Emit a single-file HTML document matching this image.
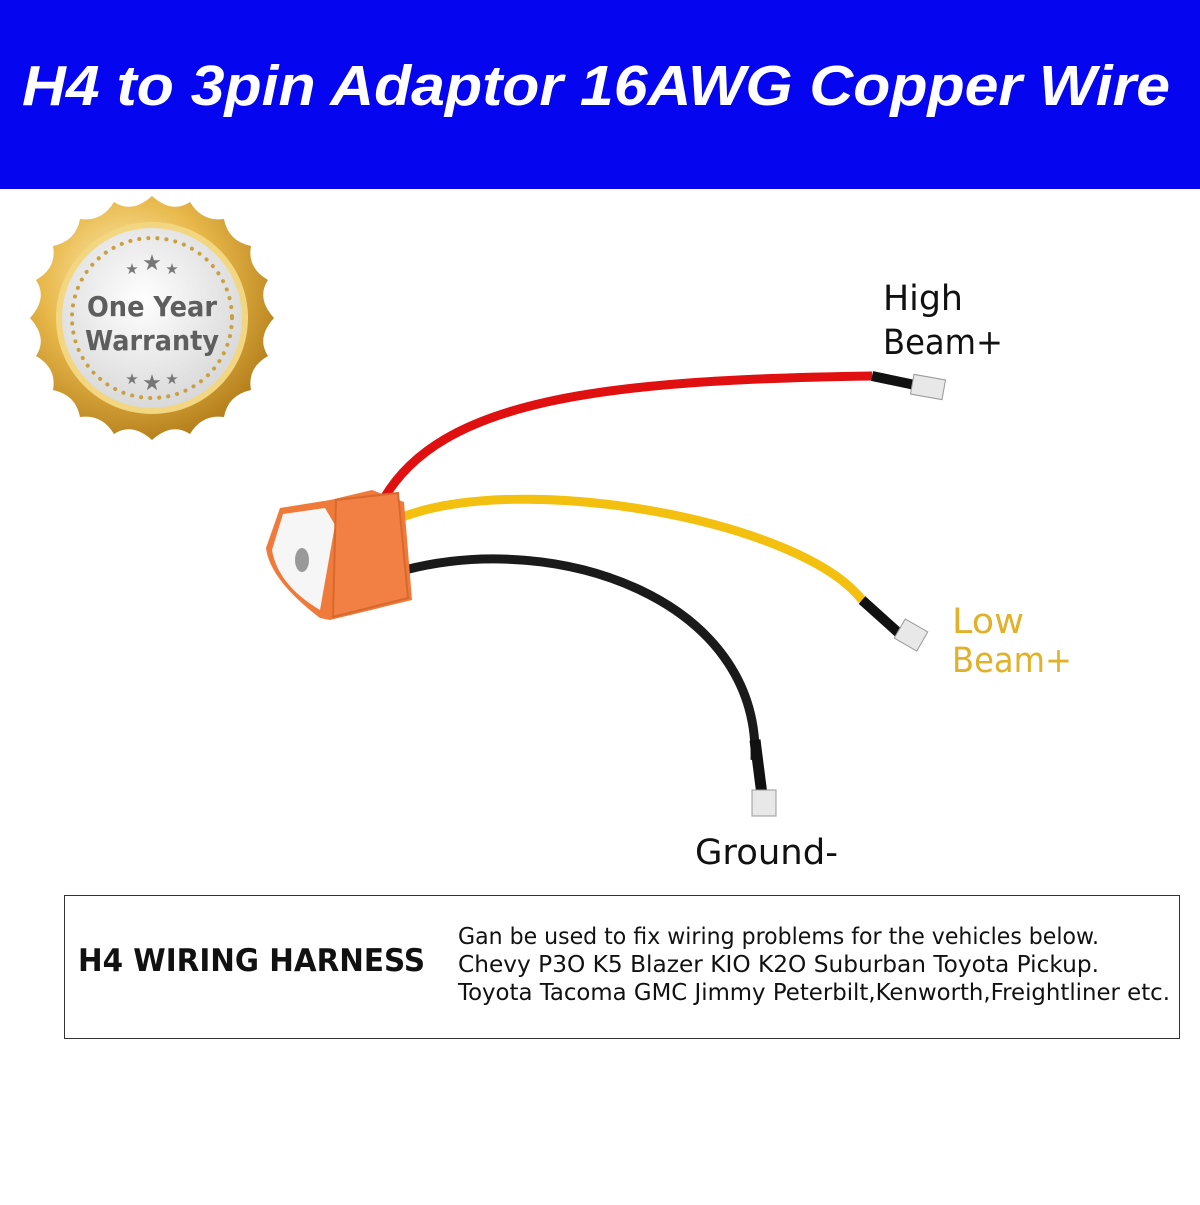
<!DOCTYPE html>
<html><head><style>
body{margin:0;width:1200px;height:1200px;background:#fff;overflow:hidden;font-family:"Liberation Sans","DejaVu Sans",sans-serif}
</style></head><body>
<svg width="1200" height="1200" viewBox="0 0 1200 1200" xmlns="http://www.w3.org/2000/svg">
<defs>
<radialGradient id="gold" cx="40%" cy="35%" r="70%"><stop offset="0" stop-color="#fff3c0"/><stop offset="0.5" stop-color="#e8b84a"/><stop offset="1" stop-color="#b07a18"/></radialGradient>
<radialGradient id="silver" cx="45%" cy="40%" r="65%"><stop offset="0" stop-color="#ffffff"/><stop offset="1" stop-color="#d6d6d6"/></radialGradient>
</defs>
<rect x="0" y="0" width="1200" height="189" fill="#0505f0"/>
<text x="22" y="105" textLength="1148" lengthAdjust="spacingAndGlyphs" fill="#fff" font-size="57" font-weight="bold" font-style="italic" font-family="Liberation Sans, sans-serif">H4 to 3pin Adaptor 16AWG Copper Wire</text>

<g transform="translate(152,318)">
<path d="M0,-122 Q20,-104 38,-116 Q50,-96 72,-99 Q76,-77 99,-72 Q95,-50 116,-38 Q104,-20 122,0 Q104,20 116,38 Q95,50 99,72 Q76,77 72,99 Q50,96 38,116 Q20,104 0,122 Q-20,104 -38,116 Q-50,96 -72,99 Q-76,77 -99,72 Q-95,50 -116,38 Q-104,20 -122,0 Q-104,-20 -116,-38 Q-95,-50 -99,-72 Q-76,-77 -72,-99 Q-50,-96 -38,-116 Q-20,-104 0,-122Z" fill="url(#gold)"/>
<circle r="96" fill="#f2d680"/>
<circle r="90" fill="url(#silver)"/>
<circle r="80" fill="none" stroke="#c9a040" stroke-width="4" stroke-dasharray="0.1 9" stroke-linecap="round"/>
<text y="-2" text-anchor="middle" font-size="28" font-weight="bold" fill="#5e5e5e" font-family="DejaVu Sans, sans-serif" textLength="130" lengthAdjust="spacingAndGlyphs">One Year</text>
<text y="32" text-anchor="middle" font-size="28" font-weight="bold" fill="#5e5e5e" font-family="DejaVu Sans, sans-serif" textLength="134" lengthAdjust="spacingAndGlyphs">Warranty</text>
<text y="-48" text-anchor="middle" font-size="22" fill="#777">★</text>
<text x="-20" y="-44" text-anchor="middle" font-size="15" fill="#777">★</text>
<text x="20" y="-44" text-anchor="middle" font-size="15" fill="#777">★</text>
<text y="72" text-anchor="middle" font-size="22" fill="#777">★</text>
<text x="-20" y="66" text-anchor="middle" font-size="15" fill="#777">★</text>
<text x="20" y="66" text-anchor="middle" font-size="15" fill="#777">★</text>
</g>

<path d="M383,500 C440,400 600,380 872,376" fill="none" stroke="#e01010" stroke-width="9"/>
<path d="M872,376 L915,385" stroke="#111" stroke-width="10"/>
<rect x="912" y="377" width="32" height="20" fill="#e8e8e8" stroke="#999" transform="rotate(10 928 387)"/>
<path d="M400,518 C520,470 800,520 862,600" fill="none" stroke="#f3c010" stroke-width="9"/>
<path d="M862,600 L902,636" stroke="#111" stroke-width="10"/>
<rect x="898" y="624" width="26" height="22" fill="#e8e8e8" stroke="#999" transform="rotate(30 911 635)"/>
<path d="M405,570 C560,530 760,600 755,760" fill="none" stroke="#1a1a1a" stroke-width="9"/>
<path d="M755,740 L762,795" stroke="#111" stroke-width="11"/>
<rect x="752" y="790" width="24" height="26" fill="#e8e8e8" stroke="#999"/>

<path d="M280,508 L330,500 L372,490 L404,502 L412,600 L330,620 L320,618 Q270,580 266,548 Z" fill="#f07a3a"/>
<path d="M283,514 L325,508 L335,525 L320,610 Q278,585 272,550 Z" fill="#f6f6f6"/>
<path d="M336,500 L398,493 L408,598 L333,617 Z" fill="#f28045" stroke="#d8692e" stroke-width="2"/>
<ellipse cx="302" cy="560" rx="7" ry="12" fill="#999"/>

<g font-family="DejaVu Sans, sans-serif">
<text x="883" y="310" font-size="35" fill="#111" textLength="80" lengthAdjust="spacingAndGlyphs">High</text>
<text x="883" y="354" font-size="35" fill="#111" textLength="120" lengthAdjust="spacingAndGlyphs">Beam+</text>
<text x="952" y="633" font-size="35" fill="#e2b12a" textLength="72" lengthAdjust="spacingAndGlyphs">Low</text>
<text x="952" y="672" font-size="35" fill="#e2b12a" textLength="120" lengthAdjust="spacingAndGlyphs">Beam+</text>
<text x="695" y="864" font-size="35" fill="#111" textLength="143" lengthAdjust="spacingAndGlyphs">Ground-</text>

<rect x="64.5" y="895.5" width="1115" height="143" fill="none" stroke="#333" stroke-width="1"/>
<text x="78" y="971" font-size="31" font-weight="bold" fill="#111" textLength="347" lengthAdjust="spacingAndGlyphs">H4 WIRING HARNESS</text>
<text x="458" y="944" font-size="23" fill="#111" textLength="641" lengthAdjust="spacingAndGlyphs">Gan be used to fix wiring problems for the vehicles below.</text>
<text x="458" y="972" font-size="23" fill="#111" textLength="641" lengthAdjust="spacingAndGlyphs">Chevy P3O K5 Blazer KIO K2O Suburban Toyota Pickup.</text>
<text x="458" y="1000" font-size="23" fill="#111" textLength="712" lengthAdjust="spacingAndGlyphs">Toyota Tacoma GMC Jimmy Peterbilt,Kenworth,Freightliner etc.</text>
</g>
</svg>
</body></html>
